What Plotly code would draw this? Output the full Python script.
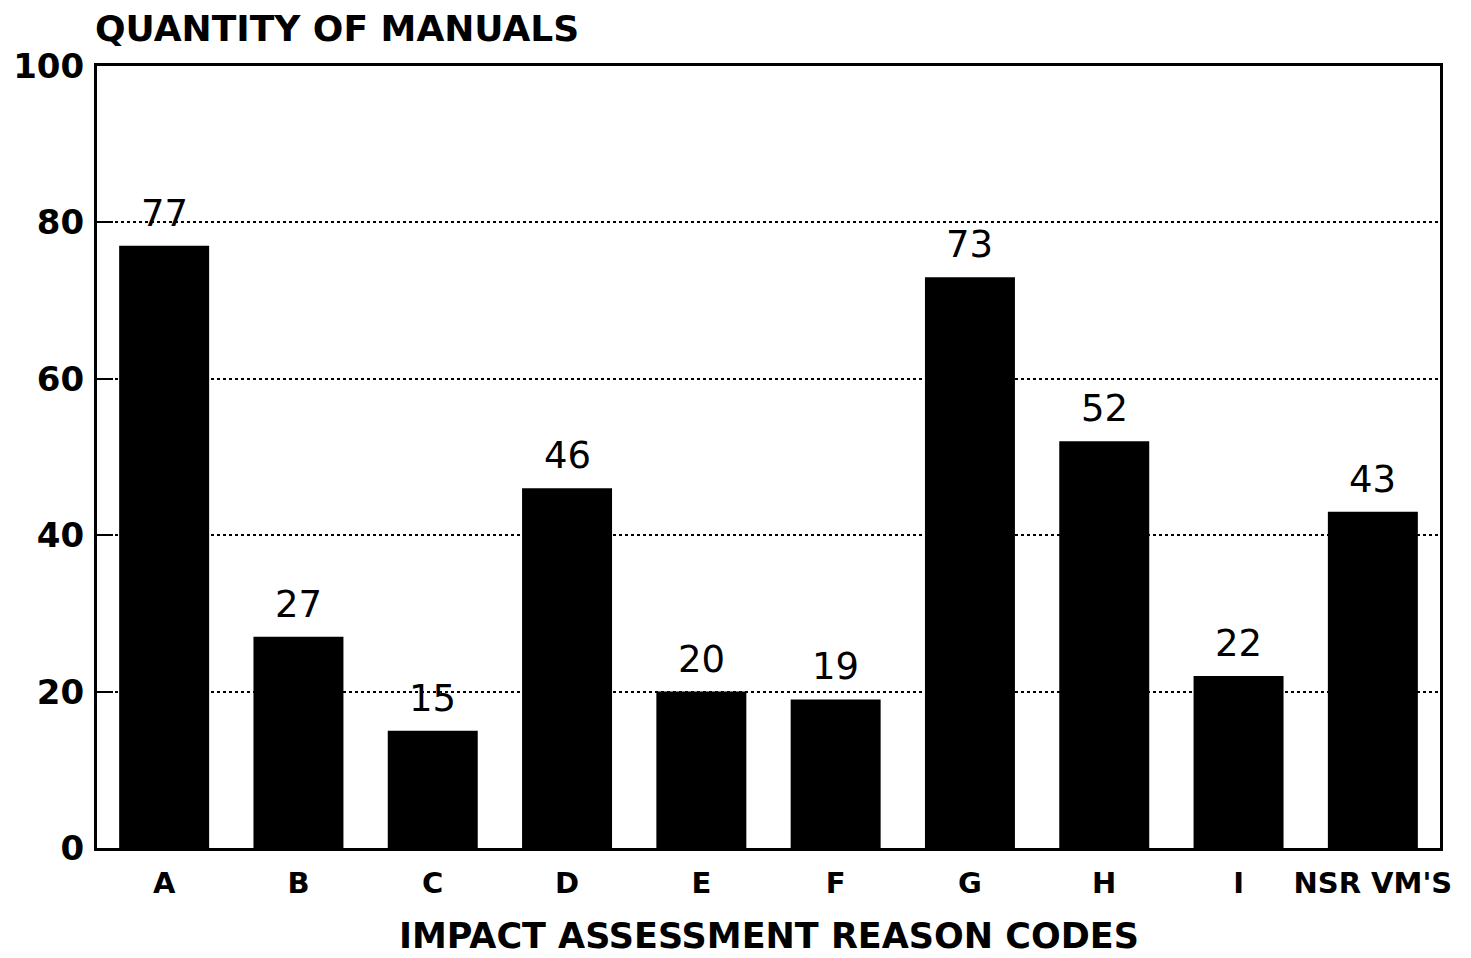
import plotly.graph_objects as go

categories = ["A", "B", "C", "D", "E", "F", "G", "H", "I", "NSR VM'S"]
values = [77, 27, 15, 46, 20, 19, 73, 52, 22, 43]
y_ticks = [0, 20, 40, 60, 80, 100]

FONT = "DejaVu Sans, Liberation Sans, Arial, sans-serif"

fig = go.Figure()
fig.add_trace(go.Bar(
    x=categories, y=values,
    marker=dict(color="black", line=dict(width=0)),
))

annotations = [
    dict(
        text="<b>QUANTITY OF MANUALS</b>",
        xref="paper", yref="paper", x=0, y=1, xanchor="left", yanchor="middle",
        yshift=38, xshift=-4, showarrow=False,
        font=dict(family=FONT, size=36, color="black"),
    ),
    dict(
        text="<b>IMPACT ASSESSMENT REASON CODES</b>",
        xref="paper", yref="paper", x=0.5, y=0, xanchor="center", yanchor="middle",
        yshift=-88, showarrow=False,
        font=dict(family=FONT, size=35, color="black"),
    ),
]
for c, v in zip(categories, values):
    annotations.append(dict(
        text=str(v), x=c, y=v, xref="x", yref="y",
        xanchor="center", yanchor="bottom", yshift=9, showarrow=False,
        font=dict(family=FONT, size=37, color="black"),
    ))

fig.update_layout(
    width=1471, height=958,
    paper_bgcolor="white", plot_bgcolor="white",
    margin=dict(l=97, r=31, t=66, b=110),
    bargap=0.33,
    showlegend=False,
    font=dict(family=FONT, color="black"),
    annotations=annotations,
)

fig.update_xaxes(
    type="category",
    tickvals=categories,
    ticktext=["<b>%s</b>" % c for c in categories],
    tickfont=dict(family=FONT, size=29, color="black"),
    showline=True, linecolor="black", linewidth=3, mirror=True,
    ticks="", showgrid=False, ticklabelstandoff=7,
    automargin=False,
)
fig.update_yaxes(
    range=[0, 100],
    tickvals=y_ticks,
    ticktext=["<b>%d</b>" % t for t in y_ticks],
    tickfont=dict(family=FONT, size=34, color="black"),
    showline=True, linecolor="black", linewidth=3, mirror=True,
    showgrid=True, gridcolor="black", gridwidth=2, griddash="dot",
    ticks="inside", ticklen=16, tickwidth=2, tickcolor="black",
    ticklabelstandoff=3,
    zeroline=False,
    automargin=False,
)

fig.write_html(
    "out.html",
    config={"displayModeBar": False},
    post_script="document.body.style.margin='0';document.body.style.overflow='hidden';",
)
